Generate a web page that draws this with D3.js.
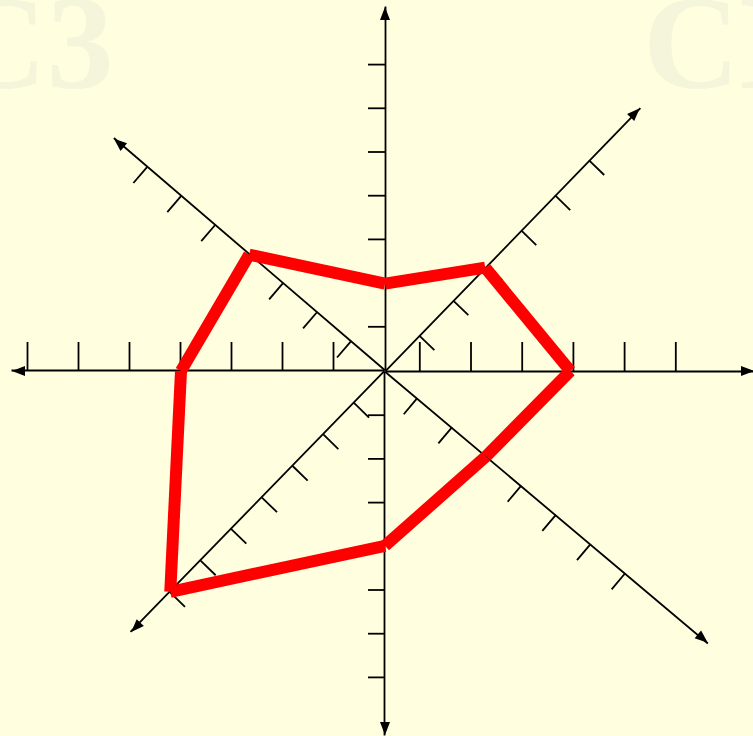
<!DOCTYPE html>
<html>
<head>
<meta charset="utf-8">
<script src="https://cdn.jsdelivr.net/npm/d3@7"></script>
<style>
  html, body { margin: 0; padding: 0; background: #ffffe0; overflow: hidden; }
  svg { display: block; }
</style>
</head>
<body>
<div id="chart"></div>
<script>
// one half-axis per direction, drawn out from the centre
const axisNames = ["E", "NE", "N", "NW", "W", "SW", "S", "SE"];
// polygon value on each axis (in tick units)
const values = [3.95, 2.95, 2, 4, 4, 7, 4, 3];
// tick marks on each axis
const tickValues = [
  [1, 2, 3, 4, 5, 6],
  [1, 2, 3, 4, 5, 6],
  [1, 2, 3, 4, 5, 6, 7],
  [1, 2, 3, 4, 5, 6, 7],
  [1, 2, 3, 4, 5, 6, 7],
  [1, 2, 3, 4, 5, 6, 7],
  [1, 2, 3, 4, 5, 6, 7],
  [1, 2, 3, 4, 5, 6, 7]
];
// value found at the centre of each axis
const domainStart = [0.33, 0, 0, 0, 0, 0, 0, 0.08];

// layout: angle (deg), length (px), px per unit, tick length, tick side
const layout = {
  E:  { angle: 0,      len: 369, unit: 51.2, tick: 29, side: "top" },
  NE: { angle: -45.9,  len: 366, unit: 48.8, tick: 21, side: "bottom" },
  N:  { angle: -90,    len: 364, unit: 43.7, tick: 17, side: "top" },
  NW: { angle: -139.4, len: 357, unit: 44.7, tick: 21, side: "top" },
  W:  { angle: 180,    len: 373, unit: 51,   tick: 29, side: "bottom" },
  SW: { angle: 134.2,  len: 364, unit: 44,   tick: 21, side: "top" },
  S:  { angle: 90,     len: 364, unit: 43.7, tick: 17, side: "bottom" },
  SE: { angle: 40.1,   len: 422, unit: 45.3, tick: 21, side: "bottom" }
};

const width = 753, height = 736;
const cx = 385, cy = 371;

const svg = d3.select("#chart").append("svg")
  .attr("width", width)
  .attr("height", height);

svg.append("rect")
  .attr("width", width)
  .attr("height", height)
  .attr("fill", "#ffffe0");

// faint watermark text
const wm = svg.append("g")
  .attr("font-family", "'Liberation Serif', 'Times New Roman', serif")
  .attr("font-weight", "bold")
  .attr("font-size", 134)
  .attr("fill", "#f4f5da");
wm.append("text").attr("x", -50).attr("y", 88).text("C3");
wm.append("text").attr("x", 643).attr("y", 88).text("CD");

const scales = axisNames.map((name, i) => {
  const l = layout[name];
  return d3.scaleLinear()
    .domain([domainStart[i], domainStart[i] + l.len / l.unit])
    .range([0, l.len]);
});

const axesG = svg.append("g").attr("transform", `translate(${cx},${cy})`);

axisNames.forEach((name, i) => {
  const l = layout[name];
  const axis = (l.side === "top" ? d3.axisTop(scales[i]) : d3.axisBottom(scales[i]))
    .tickValues(tickValues[i])
    .tickSize(l.tick)
    .tickSizeOuter(0)
    .tickFormat("");

  const g = axesG.append("g")
    .attr("transform", `rotate(${l.angle})`)
    .call(axis);

  g.select(".domain").attr("stroke", "#000").attr("stroke-width", 1.8);
  g.selectAll(".tick line").attr("stroke", "#000").attr("stroke-width", 1.8);

  // arrow head at the outer end
  g.append("path")
    .attr("d", `M${l.len},0L${l.len - 13},-5L${l.len - 13},5Z`)
    .attr("fill", "#000");
});

// polygon, drawn as separate segments with butt ends
const pts = axisNames.map((name, i) => {
  const a = layout[name].angle * Math.PI / 180;
  const r = scales[i](values[i]);
  return [cx + r * Math.cos(a), cy + r * Math.sin(a)];
});
const segs = pts.map((p, i) => [p, pts[(i + 1) % pts.length]]);

svg.append("g")
  .selectAll("line")
  .data(segs)
  .join("line")
  .attr("x1", d => d[0][0])
  .attr("y1", d => d[0][1])
  .attr("x2", d => d[1][0])
  .attr("y2", d => d[1][1])
  .attr("stroke", "#ff0000")
  .attr("stroke-width", 12)
  .attr("stroke-linecap", "butt");
</script>
</body>
</html>
